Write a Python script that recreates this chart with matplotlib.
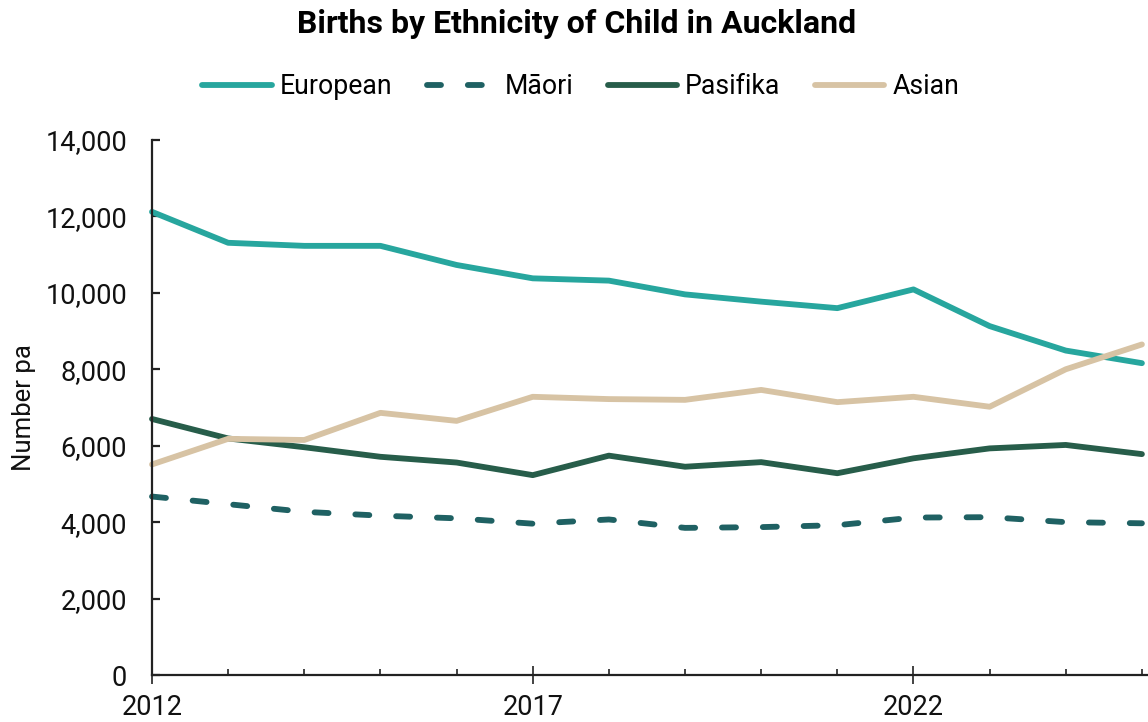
import matplotlib
matplotlib.use("Agg")
import matplotlib.pyplot as plt
from matplotlib.ticker import FuncFormatter, MultipleLocator
from matplotlib.lines import Line2D

plt.rcParams['font.family'] = ['Roboto', 'DejaVu Sans']

years = list(range(2012, 2026))
european = [12120, 11310, 11230, 11230, 10730, 10380, 10320, 9960, 9770, 9600, 10090, 9130, 8490, 8160]
maori = [4670, 4470, 4270, 4170, 4100, 3960, 4070, 3850, 3870, 3920, 4120, 4130, 4000, 3970]
pasifika = [6700, 6190, 5960, 5710, 5560, 5230, 5740, 5450, 5570, 5280, 5670, 5930, 6020, 5780]
asian = [5510, 6180, 6150, 6860, 6650, 7280, 7220, 7200, 7460, 7140, 7280, 7020, 8000, 8650]

series_names = ['European', 'Māori', 'Pasifika', 'Asian']
colors = ['#27A69E', '#1F6163', '#275D4A', '#D7C3A4']

fig = plt.figure(figsize=(11.48, 7.22), dpi=100)
ax = fig.add_axes([152/1148, 47/722, (1148-152)/1148, (675-140)/722])

lw = 4.2
dash = (0, (2.4, 4.6))
ax.plot(years, european, color=colors[0], lw=lw, solid_capstyle='round', solid_joinstyle='round', label=series_names[0], clip_on=False)
ax.plot(years, maori, color=colors[1], lw=lw, linestyle=dash, dash_capstyle='round', label=series_names[1], clip_on=False)
ax.plot(years, pasifika, color=colors[2], lw=lw, solid_capstyle='round', solid_joinstyle='round', label=series_names[2], clip_on=False)
ax.plot(years, asian, color=colors[3], lw=lw, solid_capstyle='round', solid_joinstyle='round', label=series_names[3], clip_on=False)

ax.set_xlim(2012, 2025.08)
ax.set_ylim(0, 14000)
ax.yaxis.set_major_locator(MultipleLocator(2000))
ax.yaxis.set_major_formatter(FuncFormatter(lambda v, p: f"{int(v):,}"))
ax.set_xticks([2012, 2017, 2022])
ax.set_xticks(years, minor=True)

for s in ['top', 'right']:
    ax.spines[s].set_visible(False)
for s in ['left', 'bottom']:
    ax.spines[s].set_color('#222222')
    ax.spines[s].set_linewidth(1.6)

ax.tick_params(axis='y', direction='in', length=6, width=1.6, color='#222222', labelsize=19.5, pad=18, labelcolor='#111111')
ax.tick_params(axis='x', which='major', direction='inout', length=13, width=1.2, color='#222222', labelsize=19.5, pad=7, labelcolor='#111111')
ax.tick_params(axis='x', which='minor', direction='in', length=4, width=1.2, color='#222222')

ax.set_ylabel('Number pa', fontsize=18.5, labelpad=7, color='#111111')

fig.suptitle('Births by Ethnicity of Child in Auckland', x=0.502, y=0.988, fontsize=23, fontweight='bold')

handles = [
    Line2D([0], [0], color=colors[0], lw=lw, solid_capstyle='round'),
    Line2D([0], [0], color=colors[1], lw=lw, linestyle=dash, dash_capstyle='round'),
    Line2D([0], [0], color=colors[2], lw=lw, solid_capstyle='round'),
    Line2D([0], [0], color=colors[3], lw=lw, solid_capstyle='round'),
]
fig.legend(handles, series_names, loc='center', bbox_to_anchor=(0.506, 0.880), ncol=4, frameon=False,
           fontsize=19.2, handlelength=2.6, handletextpad=0.3, columnspacing=1.3)

fig.savefig('out.png', dpi=100)
